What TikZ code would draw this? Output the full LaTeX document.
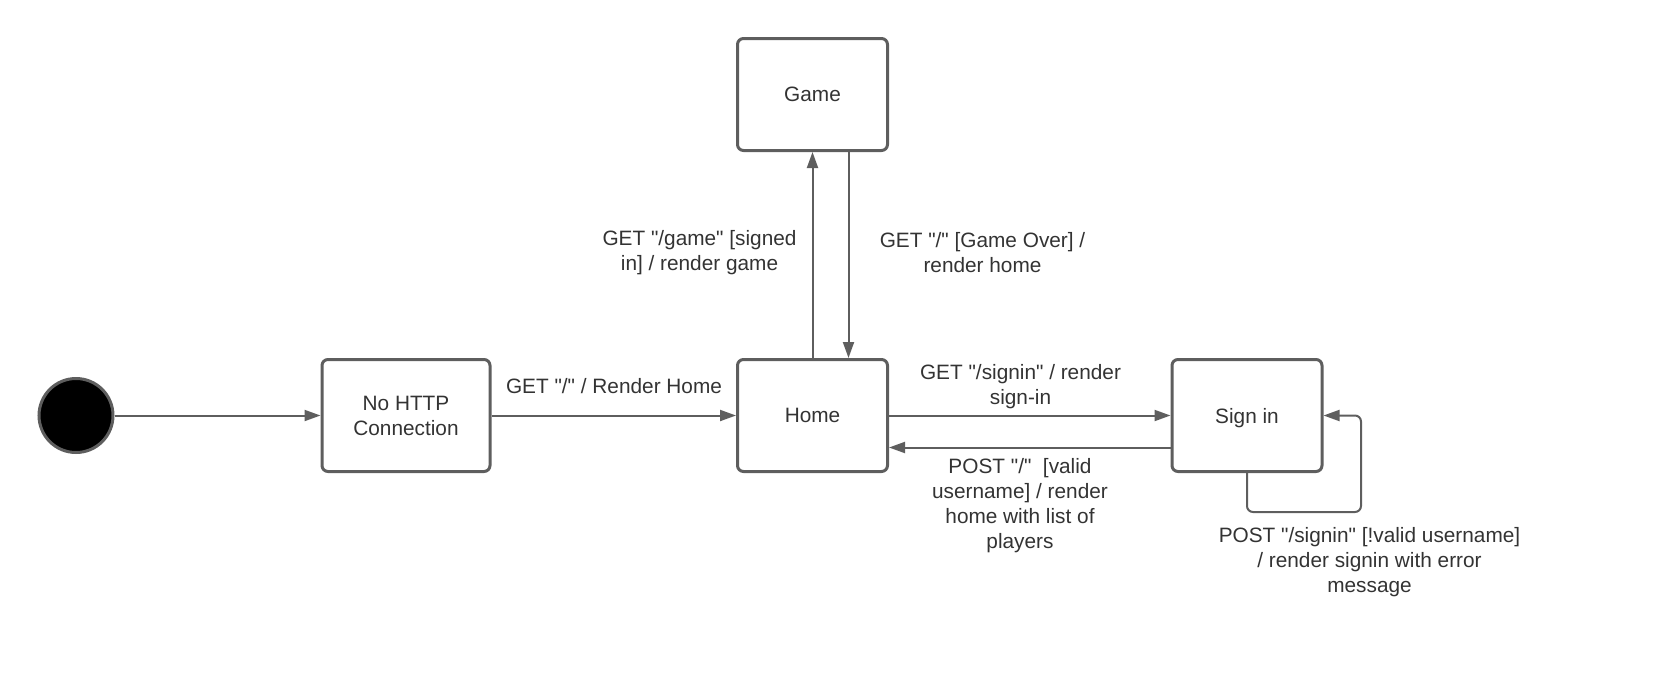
\documentclass[tikz,border=0pt]{standalone}
\usepackage{fontspec}
\setmainfont{Liberation Sans}[Ligatures=TeXOff]
\usetikzlibrary{arrows.meta}
\definecolor{linegray}{HTML}{5E5E5E}
\definecolor{textgray}{HTML}{333333}

\begin{document}
\begin{tikzpicture}[x=0.5pt,y=-0.5pt,
  every node/.style={font=\fontsize{10.4}{12.5}\selectfont},
  state/.style={draw=linegray,line width=1.5pt,rounded corners=3pt,minimum width=75pt,minimum height=56pt,align=center,text=textgray},
  trans/.style={-{Triangle[length=8pt,width=5.5pt]},draw=linegray,line width=1pt},
  lbl/.style={align=center,text=textgray,inner sep=0pt}]
\useasboundingbox (0,0) rectangle (1660,697);
\node [circle,fill=black,draw=linegray,line width=1.5pt,minimum size=37pt,inner sep=0pt] (init) at (76,415.5) {};
\node [state,minimum width=84pt] (nohttp) at (406,415.5) {No HTTP\\Connection};
\node [state] (home) at (812.5,415.5) {Home};
\node [state] (game) at (812.5,94.5) {Game};
\node [state,text depth=0pt] (signin) at (1247,415.5) {Sign in};
\draw[trans] (init) -- (nohttp);
\draw[trans] (nohttp) -- (home);
\draw[trans] (home) -- (game);
\draw[trans] ([xshift=18pt]game.south) -- ([xshift=18pt]home.north);
\draw[trans] (home) -- (signin);
\draw[trans] ([yshift=-16pt]signin.west) -- ([yshift=-16pt]home.east);
\draw[trans,rounded corners=3pt] (signin.south) -- ++(0,39) -- ++(114,0) |- (signin.east);
% labels
\node [lbl] (lhome) at (614,386) {GET "/" / Render Home};
\node [lbl] (lgame) at (699.5,252.5) {GET "/game" [signed\\in] / render game};
\node [lbl] (lover) at (982.5,252.5) {GET "/" [Game Over] /\\render home};
\node [lbl] (lsign) at (1020.5,386.5) {GET "/signin" / render\\sign-in};
\node [lbl] (lpost) at (1020,505.5) {POST "/"\ \ [valid\\username] / render\\home with list of\\players};
\node [lbl] (lloop) at (1369.5,562) {POST "/signin" [!valid username]\\/ render signin with error\\message};
\end{tikzpicture}
\end{document}
